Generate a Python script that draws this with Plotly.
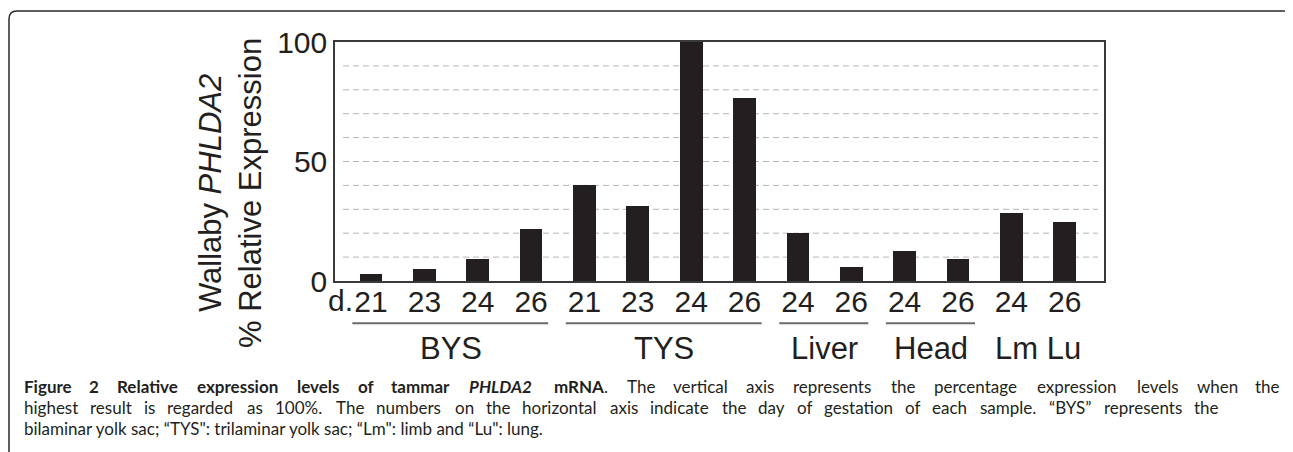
import plotly.graph_objects as go

# ---- data ----
day_labels = ["21", "23", "24", "26", "21", "23", "24", "26", "24", "26", "24", "26", "24", "26"]
expression = [3.0, 5.1, 9.2, 21.9, 40.0, 31.2, 100.0, 76.7, 20.1, 5.7, 12.4, 9.3, 28.3, 24.7]
group_names = ["BYS", "TYS", "Liver", "Head", "Lm Lu"]
group_first = [0, 4, 8, 10, 12]
group_last = [3, 7, 9, 11, 13]
group_underlined = [True, True, True, True, False]
y_tick_values = [0, 50, 100]
grid_values = [10, 20, 30, 40, 50, 60, 70, 80, 90]

caption_line1_bold = "Figure 2 Relative expression levels of tammar PHLDA2 mRNA"
caption_line1_rest = "The vertical axis represents the percentage expression levels when the"
caption_line2 = ("highest result is regarded as 100%. The numbers on the horizontal axis indicate "
                 "the day of gestation of each sample. \u201cBYS\u201d represents the")
caption_line3 = "bilaminar yolk sac; \u201cTYS\": trilaminar yolk sac; \u201cLm\": limb and \u201cLu\": lung."
italic_words = ["PHLDA2"]

# ---- layout geometry (target pixels; page body adds an 8px offset) ----
OFF = 8
W, H = 1293 - OFF, 452 - OFF
L, R, T, B = 335, 1104, 42, 281
PW, PH = R - L, B - T


def px(x):
    return (x - L) / PW


def py(y):
    return (B - y) / PH


positions = list(range(len(expression)))
ink = "#231f20"
sans = "Liberation Sans, Arial, Helvetica, sans-serif"
cap_font = "Lato, Open Sans, sans-serif"
CAP_SIZE = 17
cap_bottoms = [398, 419, 440]

fig = go.Figure()
fig.add_trace(go.Bar(x=positions, y=expression, width=0.425,
                     marker=dict(color=ink, line=dict(width=0)),
                     hoverinfo="x+y"))

shapes = []
for v in grid_values:
    shapes.append(dict(type="line", xref="paper", yref="y", x0=8 / PW, x1=1 - 6 / PW,
                       y0=v, y1=v, layer="below",
                       line=dict(color="#b5b5b5", width=1, dash="6px,4px")))

annotations = []
for name, a, b, u in zip(group_names, group_first, group_last, group_underlined):
    if u:
        shapes.append(dict(type="line", xref="x", yref="paper", x0=a - 0.35, x1=b + 0.32,
                           y0=py(323.3), y1=py(323.3),
                           line=dict(color="#6b6b6b", width=2)))
    annotations.append(dict(text=name, xref="x", yref="paper", x=(a + b) / 2,
                            y=py(348), xanchor="center", yanchor="middle", showarrow=False,
                            font=dict(family=sans, size=31, color=ink)))

annotations.append(dict(text="d.", xref="x", yref="paper", x=positions[0], xshift=-16,
                        y=py(300), xanchor="right", yanchor="middle", showarrow=False,
                        font=dict(family=sans, size=30, color=ink)))

annotations.append(dict(text="Wallaby <i>PHLDA2</i><br>% Relative Expression",
                        xref="paper", yref="paper", x=px(231), y=py(193),
                        xanchor="center", yanchor="middle", textangle=-90, showarrow=False,
                        font=dict(family=sans, size=31, color=ink)))

# ---- caption: justified lines, laid out word by word ----
CW = {c: v for c, v in zip("abcdefghijklmnopqrstuvwxyz",
                           [.52, .57, .46, .57, .53, .32, .50, .56, .23, .23, .49, .23, .85,
                            .56, .57, .57, .57, .36, .43, .34, .56, .50, .77, .48, .50, .45])}
CW.update({c: v for c, v in zip("ABCDEFGHIJKLMNOPQRSTUVWXYZ",
                                [.68, .63, .66, .73, .55, .53, .71, .74, .27, .36, .65, .48, .88,
                                 .74, .78, .60, .78, .63, .54, .57, .72, .68, .98, .65, .62, .60])})
CW.update({d: .58 for d in "0123456789"})
CW.update({".": .22, ",": .22, ";": .23, ":": .23, "%": .84, "\u201c": .33, "\u201d": .33,
           "\"": .37, " ": .19})


def est(s):
    return sum(CW.get(c, .55) for c in s)


# calibration from natural renderings at 17.5 px: regular line 3 = 535 px, bold run = 482 px
K_REG = (535 / 17.5) / est(caption_line3)
K_BOLD = (482 / 17.5) / est(caption_line1_bold)


def wpx(s, bold=False):
    return (K_BOLD if bold else K_REG) * CAP_SIZE * est(s)


def markup(word, bold):
    t = f"<i>{word}</i>" if word in italic_words else word
    return f"<b>{t}</b>" if bold else t


def cap_text(text, x, anchor, bottom):
    annotations.append(dict(text=text, xref="paper", yref="paper", x=px(x), y=py(bottom),
                            xanchor=anchor, yanchor="bottom", showarrow=False, borderpad=0,
                            font=dict(family=cap_font, size=CAP_SIZE, color=ink)))


def justify(words, x_start, x_end, bottom):
    total = sum(w for _, w in words)
    gap = (x_end - x_start - total) / (len(words) - 1)
    x = x_start
    for i, (mk, wd) in enumerate(words):
        if i == len(words) - 1:
            cap_text(mk, x_end, "right", bottom)
        else:
            cap_text(mk, x, "left", bottom)
        x += wd + gap


bold_words = caption_line1_bold.split(" ")
line1 = [(markup(w, True), wpx(w, True)) for w in bold_words[:-1]]
line1.append((markup(bold_words[-1], True) + ".", wpx(bold_words[-1], True) + wpx(".")))
line1 += [(w, wpx(w)) for w in caption_line1_rest.split(" ")]
justify(line1, 23, 1281, cap_bottoms[0])
justify([(w, wpx(w)) for w in caption_line2.split(" ")], 23, 1220, cap_bottoms[1])
cap_text(caption_line3, 23, "left", cap_bottoms[2])

# rounded outer frame (top corners only visible)
frame = (f"M {px(9)},{py(470)} L {px(9)},{py(19)} Q {px(9)},{py(11)} {px(17)},{py(11)} "
         f"L {px(1285)},{py(11)} Q {px(1292)},{py(11)} {px(1292)},{py(19)} L {px(1292)},{py(470)}")
shapes.append(dict(type="path", xref="paper", yref="paper", path=frame,
                   line=dict(color="#2a2a2a", width=1.5)))

fig.update_layout(
    width=W, height=H, autosize=False,
    margin=dict(l=L - OFF, r=W - (R - OFF), t=T - OFF, b=H - (B - OFF), pad=0),
    paper_bgcolor="white", plot_bgcolor="white",
    showlegend=False, bargap=0,
    shapes=shapes, annotations=annotations,
    xaxis=dict(range=[-0.675, 13.737], tickmode="array", tickvals=positions, ticktext=day_labels,
               showgrid=False, zeroline=False, showline=True, mirror=True,
               linecolor="#3a3a3a", linewidth=1.5, ticks="", ticklabelstandoff=-7,
               tickfont=dict(family=sans, size=30, color=ink)),
    yaxis=dict(range=[0, 100], tickmode="array", tickvals=y_tick_values,
               showgrid=False, zeroline=False, showline=True, mirror=True,
               linecolor="#3a3a3a", linewidth=1.5, ticks="", ticklabelstandoff=0,
               tickfont=dict(family=sans, size=30, color=ink)),
)

fig.write_html("out.html")
